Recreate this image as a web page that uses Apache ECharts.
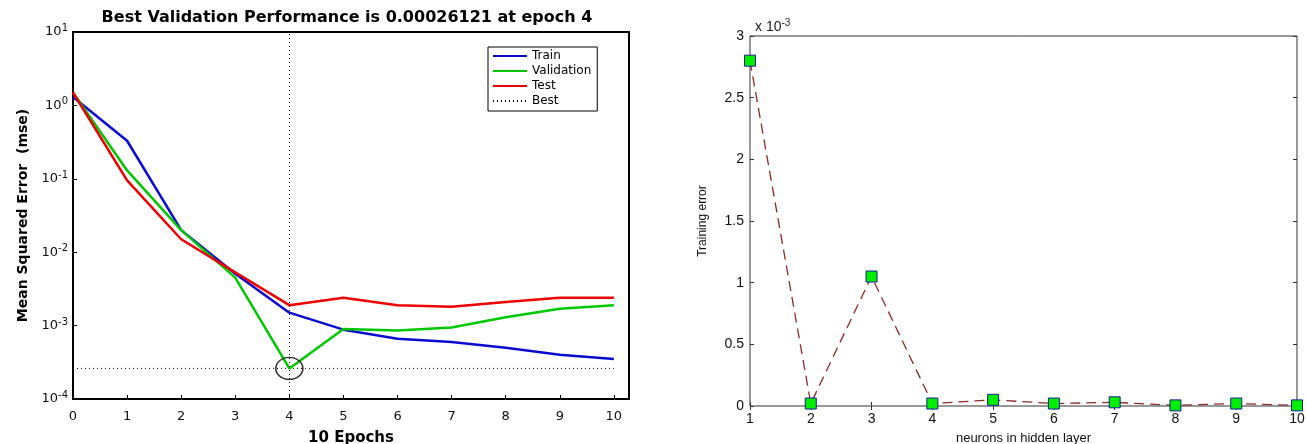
<!DOCTYPE html>
<html>
<head>
<meta charset="utf-8">
<script src="https://cdn.jsdelivr.net/npm/echarts@6/dist/echarts.min.js"></script>
<style>
  html, body { margin: 0; padding: 0; background: #fff; }
  #main { width: 1306px; height: 444px; }
</style>
</head>
<body>
<div id="main"></div>
<script>
// left: performance plot (log scale)
var epochs = [0, 1, 2, 3, 4, 5, 6, 7, 8, 9, 10];
var trainMse = [1.3, 0.33, 0.02, 0.0051, 0.0015, 0.00088, 0.00066, 0.0006, 0.0005, 0.0004, 0.00035];
var validationMse = [1.5, 0.13, 0.02, 0.0045, 0.00026121, 0.0009, 0.00086, 0.00094, 0.0013, 0.0017, 0.0019];
var testMse = [1.5, 0.095, 0.015, 0.0053, 0.0019, 0.0024, 0.0019, 0.0018, 0.0021, 0.0024, 0.0024];
var bestEpoch = 4;
var bestPerf = 0.00026121;

// right: training error vs neurons
var neurons = [1, 2, 3, 4, 5, 6, 7, 8, 9, 10];
var trainingError = [0.0028, 0.00002, 0.00105, 0.00002, 0.00005, 0.00002, 0.00003, 0.000005, 0.00002, 0.000005];

var wide = 'DejaVu Sans, Verdana, sans-serif';
var font = 'Liberation Sans, Arial, sans-serif';
var myChart = echarts.init(document.getElementById('main'));

function pairs(xs, ys) {
    var out = [];
    xs.forEach(function (x, i) { out.push([x, ys[i]]); });
    return out;
}

var option = {
    animation: false,
    textStyle: { fontFamily: font },
    title: [
        {
            text: 'Best Validation Performance is 0.00026121 at epoch 4',
            left: 342, top: 5, textAlign: 'center',
            textStyle: { fontSize: 16, fontWeight: 'bold', color: '#000', fontFamily: wide }
        },
        {
            text: '{a|x 10}{s|-3}',
            left: 750, top: 13,
            textStyle: {
                fontFamily: font, fontWeight: 'normal',
                rich: {
                    a: { fontSize: 14, color: '#222', fontFamily: font, fontWeight: 'normal' },
                    s: { fontSize: 10, color: '#222', fontFamily: font, fontWeight: 'normal', verticalAlign: 'bottom', padding: [0, 0, 8, 0] }
                }
            }
        }
    ],
    legend: {
        data: ['Train', 'Validation', 'Test', 'Best'],
        orient: 'vertical',
        left: 488, top: 47,
        borderColor: '#000', borderWidth: 1, borderRadius: 0,
        padding: [3, 6, 4, 4],
        itemGap: 3, itemWidth: 34, itemHeight: 14,
        itemStyle: { opacity: 0 },
        textStyle: { fontSize: 12, color: '#000', fontFamily: wide }
    },
    grid: [
        { left: 73, top: 32, width: 556, height: 367, show: true, borderColor: '#000', borderWidth: 2, outerBoundsMode: 'none' },
        { left: 750, top: 36, width: 547, height: 370, show: true, borderColor: '#333', borderWidth: 1, outerBoundsMode: 'none' }
    ],
    xAxis: [
        {
            gridIndex: 0, type: 'value', min: 0, max: 10.28, interval: 1,
            name: '10 Epochs', nameLocation: 'middle', nameGap: 32,
            nameTextStyle: { fontSize: 15, fontWeight: 'bold', color: '#000', fontFamily: wide },
            axisLine: { show: false },
            axisTick: { inside: true, length: 4, lineStyle: { color: '#000' } },
            axisLabel: {
                fontSize: 13, color: '#111', margin: 11, fontFamily: wide,
                formatter: function (v) { return v % 1 === 0 ? String(v) : ''; }
            },
            splitLine: { show: false }
        },
        {
            gridIndex: 1, type: 'value', min: 1, max: 10, interval: 1,
            name: 'neurons in hidden layer', nameLocation: 'middle', nameGap: 26,
            nameTextStyle: { fontSize: 13, color: '#111', fontFamily: font },
            axisLine: { show: false },
            axisTick: { inside: true, length: 4, lineStyle: { color: '#333' } },
            axisLabel: { fontSize: 14, color: '#111', margin: 6 },
            splitLine: { show: false }
        },
        {
            gridIndex: 1, type: 'value', min: 1, max: 10, interval: 1, position: 'top',
            axisLine: { show: false },
            axisTick: { inside: true, length: 4, lineStyle: { color: '#333' } },
            axisLabel: { show: false },
            splitLine: { show: false }
        }
    ],
    yAxis: [
        {
            gridIndex: 0, type: 'log', logBase: 10, min: 0.0001, max: 10,
            name: 'Mean Squared Error  (mse)', nameLocation: 'middle', nameGap: 43,
            nameTextStyle: { fontSize: 14, fontWeight: 'bold', color: '#000', fontFamily: wide },
            axisLine: { show: false },
            axisTick: { inside: true, length: 4, lineStyle: { color: '#000' } },
            minorTick: { show: false },
            axisLabel: {
                margin: 5,
                formatter: function (v) {
                    var e = Math.round(Math.log10(v));
                    return '{b|10}{s|' + e + '}';
                },
                rich: {
                    b: { fontSize: 13, color: '#111', fontFamily: wide },
                    s: { fontSize: 10, color: '#111', fontFamily: wide, verticalAlign: 'bottom', padding: [0, 0, 7, 0] }
                }
            },
            splitLine: { show: false }
        },
        {
            gridIndex: 1, type: 'value', min: 0, max: 0.003, interval: 0.0005,
            name: 'Training error', nameLocation: 'middle', nameGap: 41,
            nameTextStyle: { fontSize: 12, color: '#111', fontFamily: font },
            axisLine: { show: false },
            axisTick: { inside: true, length: 4, lineStyle: { color: '#333' } },
            axisLabel: {
                fontSize: 14, color: '#111', margin: 6,
                formatter: function (v) { return String(parseFloat((v * 1000).toFixed(2))); }
            },
            splitLine: { show: false }
        },
        {
            gridIndex: 1, type: 'value', min: 0, max: 0.003, interval: 0.0005, position: 'right',
            axisLine: { show: false },
            axisTick: { inside: true, length: 4, lineStyle: { color: '#333' } },
            axisLabel: { show: false },
            splitLine: { show: false }
        }
    ],
    series: [
        {
            name: 'Train', type: 'line', xAxisIndex: 0, yAxisIndex: 0,
            data: pairs(epochs, trainMse), symbol: 'none',
            lineStyle: { color: '#0a0ad0', width: 2.5 }, itemStyle: { color: '#0a0ad0' }, z: 3
        },
        {
            name: 'Validation', type: 'line', xAxisIndex: 0, yAxisIndex: 0,
            data: pairs(epochs, validationMse), symbol: 'none',
            lineStyle: { color: '#00c800', width: 2.5 }, itemStyle: { color: '#00c800' }, z: 4
        },
        {
            name: 'Test', type: 'line', xAxisIndex: 0, yAxisIndex: 0,
            data: pairs(epochs, testMse), symbol: 'none',
            lineStyle: { color: '#ee0000', width: 2.5 }, itemStyle: { color: '#ee0000' }, z: 5
        },
        {
            name: 'Best', type: 'line', xAxisIndex: 0, yAxisIndex: 0,
            data: [[epochs[0], bestPerf], [epochs[epochs.length - 1], bestPerf]], symbol: 'none',
            lineStyle: { color: '#000', width: 1, type: [1, 3] }, itemStyle: { color: '#000' }, z: 2,
            markLine: {
                silent: true, symbol: 'none', label: { show: false },
                lineStyle: { color: '#000', width: 1, type: [1, 3] },
                data: [{ xAxis: bestEpoch }]
            }
        },
        {
            name: 'bestCircle', type: 'scatter', xAxisIndex: 0, yAxisIndex: 0,
            data: [[bestEpoch, bestPerf]], symbol: 'circle', symbolSize: [27, 22],
            itemStyle: { color: 'rgba(0,0,0,0)', borderColor: '#000', borderWidth: 1.5 }, z: 6
        },
        {
            name: 'Training error', type: 'line', xAxisIndex: 1, yAxisIndex: 1,
            data: pairs(neurons, trainingError),
            symbol: 'rect', symbolSize: 11, showAllSymbol: true,
            lineStyle: { color: '#8b2a2a', width: 1.3, type: [10, 6] },
            itemStyle: { color: '#00ee00', borderColor: '#1a1a99', borderWidth: 1 },
            z: 3
        }
    ]
};

myChart.setOption(option);
</script>
</body>
</html>
